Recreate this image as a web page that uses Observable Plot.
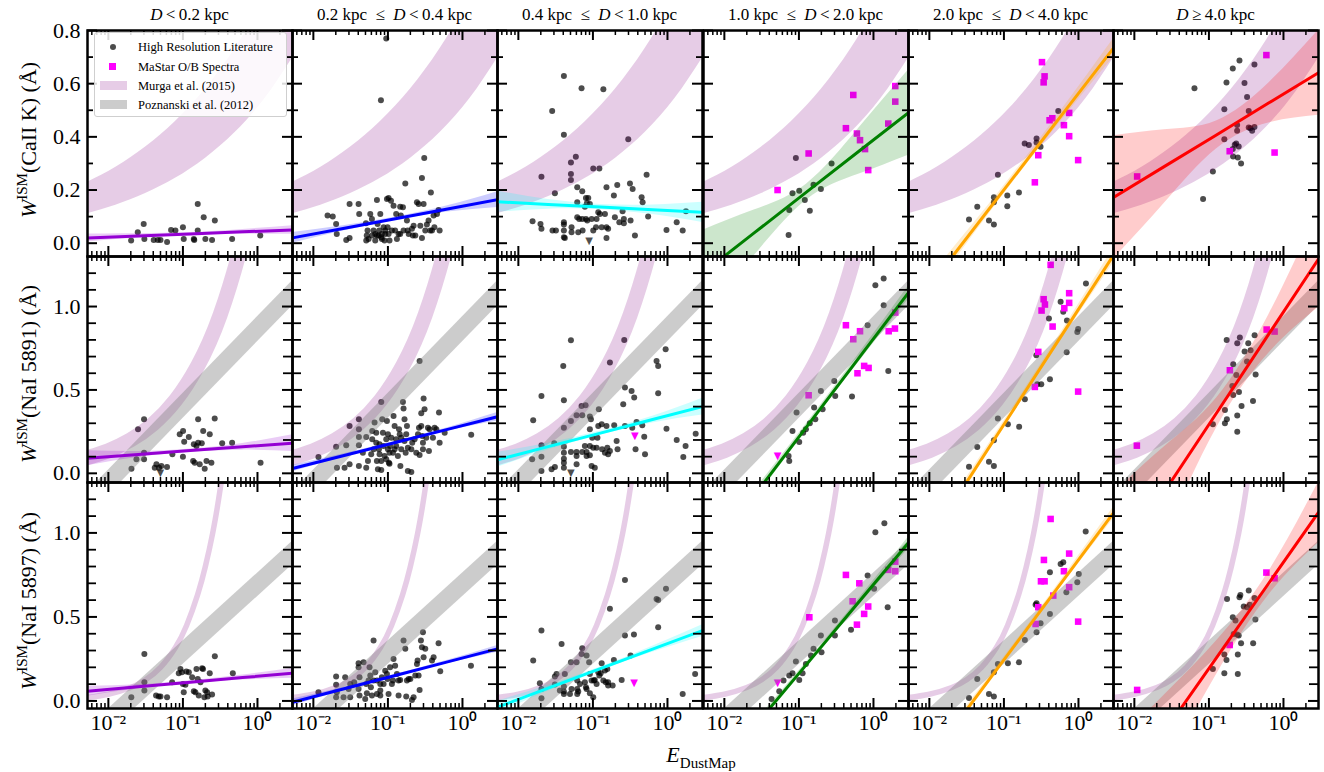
<!DOCTYPE html>
<html><head><meta charset="utf-8">
<script src="https://cdn.jsdelivr.net/npm/d3@7"></script>
<script src="https://cdn.jsdelivr.net/npm/@observablehq/plot@0.6"></script>
<style>
body{margin:0;background:#fff;font-family:"Liberation Serif",serif;}
#fig{position:relative;width:1324px;height:772px;overflow:hidden;background:#fff;}
.txt{position:absolute;white-space:nowrap;color:#000;font-family:"Liberation Serif",serif;}
.ttl{font-size:17px;transform:translate(-50%,-50%);}
.ylab{font-size:22px;transform:translate(-50%,-50%) rotate(-90deg);}
.ylab sup{font-size:15px;}
#legend{position:absolute;left:94px;top:32px;width:191px;height:83px;background:rgba(255,255,255,0.85);border:1px solid #cfcfcf;border-radius:3px;}
.lg{position:absolute;left:43px;font-size:12.5px;transform:translateY(-50%);white-space:nowrap;font-family:"Liberation Serif",serif;}
</style></head><body><div id="fig"></div>
<script>
// ---------------- data ----------------
const binTitles = ["<i>D</i>&thinsp;&lt;&thinsp;0.2 kpc","0.2 kpc &nbsp;≤ &nbsp;<i>D</i>&thinsp;&lt;&thinsp;0.4 kpc","0.4 kpc &nbsp;≤ &nbsp;<i>D</i>&thinsp;&lt;&thinsp;1.0 kpc","1.0 kpc &nbsp;≤ &nbsp;<i>D</i>&thinsp;&lt;&thinsp;2.0 kpc","2.0 kpc &nbsp;≤ &nbsp;<i>D</i>&thinsp;&lt;&thinsp;4.0 kpc","<i>D</i>&thinsp;≥&thinsp;4.0 kpc"];
const lineLabels = ["(CaII K) (Å)","(NaI 5891) (Å)","(NaI 5897) (Å)"];
const fitColors = ["darkviolet","blue","cyan","green","orange","red"];
const xMajor = [0.01,0.1,1];
const xMinor = [0.006,0.007,0.008,0.009,0.02,0.03,0.04,0.05,0.06,0.07,0.08,0.09,0.2,0.3,0.4,0.5,0.6,0.7,0.8,0.9,2];
const yMajor = [[0,0.2,0.4,0.6,0.8],[0,0.5,1.0],[0,0.5,1.0]];
const yMinor = [[0.1,0.3,0.5,0.7],[0.1,0.2,0.3,0.4,0.6,0.7,0.8,0.9,1.1,1.2],[0.1,0.2,0.3,0.4,0.6,0.7,0.8,0.9,1.1,1.2]];

// Murga et al. (2015) bands
const murgaE_CaK = [0.00525,0.0126,0.0316,0.0794,0.1995,0.501,1.259,2.95];
const murgaLo_CaK = [0.111,0.143,0.187,0.244,0.319,0.416,0.544,0.697];
const murgaHi_CaK = [0.229,0.286,0.362,0.458,0.579,0.732,0.926,1.15];
const murgaE_Na1 = [0.00525,0.01,0.02,0.0398,0.0794,0.158,0.316,0.631,1.0];
const murgaW_Na1 = [0.095,0.136,0.201,0.296,0.437,0.644,0.950,1.400,1.81];
const murgaE_Na2 = [0.00525,0.01,0.02,0.0316,0.0501,0.0794,0.112,0.158,0.2,0.251,0.316,0.398];
const murgaW_Na2 = [0.021,0.04,0.08,0.126,0.20,0.318,0.449,0.634,0.80,1.0,1.26,1.59];
// Poznanski et al. (2012) bands
const pozE = [0.00525,2.95];
const pozLo_Na1 = [-0.26,1.005], pozHi_Na1 = [-0.11,1.155];
const pozLo_Na2 = [-0.30,0.81], pozHi_Na2 = [-0.16,0.95];

// linear fits and confidence bands
const bandE = [0.00525,0.0251,0.126,0.631,2.95];
const fitC_CaK = [[0.020,0.0274,0.035,0.0427,0.050],[0.020,0.0556,0.0922,0.1289,0.164],[0.156,0.146,0.136,0.126,0.116],[-0.110,0.0387,0.192,0.345,0.491],[-0.264,-0.017,0.237,0.491,0.734],[0.172,0.288,0.407,0.527,0.641]];
const fitH_CaK = [[0.015,0.008,0.005,0.009,0.016],[0.02,0.01,0.006,0.012,0.03],[0.04,0.018,0.01,0.018,0.038],[0.16,0.086,0.03,0.086,0.16],[0.04,0.025,0.015,0.02,0.035],[0.232,0.139,0.053,0.075,0.16]];
const fitC_Na1 = [[0.091,0.1133,0.1362,0.1591,0.181],[0.029,0.1057,0.1846,0.2636,0.339],[0.081,0.1599,0.2411,0.3223,0.40],[-0.534,-0.134,0.277,0.689,1.083],[-0.592,-0.122,0.362,0.845,1.308],[-0.571,-0.112,0.360,0.833,1.285]];
const fitH_Na1 = [[0.045,0.018,0.01,0.02,0.05],[0.02,0.01,0.007,0.01,0.025],[0.045,0.02,0.012,0.02,0.05],[0.05,0.03,0.02,0.025,0.04],[0.05,0.03,0.02,0.025,0.045],[0.45,0.27,0.09,0.115,0.29]];
const fitC_Na2 = [[0.058,0.0845,0.1117,0.139,0.165],[-0.008,0.0706,0.1516,0.2326,0.31],[-0.037,0.0758,0.192,0.308,0.419],[-0.514,-0.154,0.216,0.587,0.941],[-0.517,-0.112,0.304,0.721,1.119],[-0.616,-0.186,0.256,0.699,1.122]];
const fitH_Na2 = [[0.03,0.012,0.008,0.015,0.03],[0.02,0.01,0.007,0.01,0.02],[0.035,0.018,0.01,0.018,0.035],[0.04,0.025,0.015,0.02,0.035],[0.045,0.025,0.015,0.02,0.035],[0.35,0.22,0.10,0.07,0.18]];

// High resolution literature points [E, W]
const hr_CaK_0 = [[0.0202,0.01],[0.0248,0.041],[0.0298,0.0725],[0.0304,0.016],[0.0406,0.0125],[0.046,0.0125],[0.05,0.0125],[0.0613,0.005],[0.0694,0.05],[0.0793,0.0475],[0.1,0.06],[0.1026,0.016],[0.14,0.016],[0.142,0.0125],[0.158,0.1475],[0.158,0.0475],[0.19,0.0975],[0.2,0.016],[0.246,0.0125],[0.268,0.085],[0.457,0.016],[1.09,0.029]];
const hr_CaK_1 = [[0.0155,0.104],[0.0182,0.10],[0.0202,0.0725],[0.0206,0.035],[0.0276,0.0125],[0.0306,0.02],[0.0306,0.1475],[0.0404,0.1475],[0.0412,0.11],[0.0507,0.075],[0.0512,0.01],[0.0533,0.0475],[0.058,0.11],[0.061,0.091],[0.0642,0.0475],[0.0676,0.035],[0.0676,0.01],[0.0712,0.1625],[0.0727,0.0725],[0.075,0.029],[0.0765,0.0475],[0.079,0.11],[0.0806,0.5375],[0.0814,0.0225],[0.083,0.016],[0.0875,0.06],[0.09,0.01],[0.092,0.035],[0.095,0.77],[0.097,0.166],[0.099,0.06],[0.102,0.17],[0.102,0.035],[0.105,0.01],[0.11,0.16],[0.113,0.0475],[0.119,0.141],[0.125,0.0475],[0.129,0.11],[0.132,0.016],[0.139,0.035],[0.146,0.1375],[0.149,0.104],[0.159,0.135],[0.162,0.0475],[0.171,0.225],[0.18,0.085],[0.184,0.0475],[0.19,0.035],[0.21,0.054],[0.216,0.029],[0.221,0.066],[0.245,0.154],[0.258,0.1475],[0.272,0.066],[0.286,0.245],[0.286,0.02],[0.301,0.1475],[0.307,0.32],[0.317,0.0475],[0.333,0.07],[0.351,0.085],[0.37,0.0475],[0.377,0.191],[0.39,0.0475],[0.41,0.104],[0.42,0.06],[0.455,0.11],[0.478,0.125],[0.494,0.0475],[0.083,0.035],[0.0712,0.029],[0.092,0.0475],[0.061,0.029],[0.052,0.029],[0.055,0.016],[0.146,0.035],[0.233,0.029]];
const hr_CaK_2 = [[0.0155,0.0825],[0.0198,0.0725],[0.0204,0.054],[0.0204,0.25],[0.0284,0.4975],[0.0287,0.0475],[0.0309,0.1875],[0.0319,0.0475],[0.0408,0.629],[0.0408,0.4075],[0.0408,0.079],[0.0408,0.07],[0.0408,0.0475],[0.0408,0.0225],[0.042,0.02],[0.0507,0.304],[0.0507,0.26],[0.0507,0.2375],[0.0517,0.06],[0.0517,0.041],[0.059,0.325],[0.0616,0.21],[0.0616,0.154],[0.0616,0.0975],[0.0636,0.041],[0.0655,0.091],[0.0704,0.5825],[0.0719,0.195],[0.0719,0.091],[0.0727,0.0475],[0.078,0.1375],[0.0806,0.091],[0.0806,0.17],[0.083,0.15],[0.0839,0.085],[0.0866,0.17],[0.091,0.1475],[0.096,0.091],[0.101,0.281],[0.101,0.0475],[0.11,0.06],[0.112,0.091],[0.118,0.116],[0.122,0.281],[0.124,0.11],[0.131,0.06],[0.138,0.579],[0.145,0.11],[0.152,0.21],[0.152,0.06],[0.152,0.02],[0.16,0.054],[0.191,0.179],[0.197,0.0975],[0.212,0.219],[0.226,0.079],[0.25,0.12],[0.26,0.091],[0.26,0.075],[0.298,0.391],[0.314,0.225],[0.32,0.085],[0.341,0.204],[0.366,0.029],[0.45,0.1725],[0.464,0.154],[0.525,0.2575],[0.55,0.10],[0.97,0.05],[1.33,0.079],[1.6,0.0475],[1.77,0.12]];
const hr_CaK_3 = [[0.0727,0.031],[0.0742,0.125],[0.082,0.1875],[0.091,0.32],[0.101,0.1975],[0.12,0.1625],[0.14,0.1225],[0.157,0.22],[0.197,0.204],[0.274,0.30]];
const hr_CaK_4 = [[0.034,0.089],[0.0439,0.1375],[0.063,0.085],[0.0734,0.07],[0.0734,0.1725],[0.0734,0.154],[0.083,0.2575],[0.111,0.179],[0.111,0.139],[0.159,0.191],[0.19,0.375],[0.216,0.369],[0.274,0.394],[0.274,0.379],[0.31,0.3625],[0.536,0.4975]];
const hr_CaK_5 = [[0.064,0.5825],[0.0835,0.166],[0.113,0.27],[0.161,0.504],[0.161,0.391],[0.172,0.604],[0.209,0.6575],[0.209,0.354],[0.211,0.326],[0.222,0.37],[0.232,0.375],[0.239,0.4225],[0.239,0.445],[0.244,0.3225],[0.251,0.364],[0.257,0.6875],[0.27,0.30],[0.30,0.6025],[0.325,0.55],[0.342,0.4975],[0.342,0.435],[0.36,0.4325],[0.38,0.4225],[0.408,0.4375],[0.408,0.6725]];

const hr_Na1_0 = [[0.0204,0.028],[0.0238,0.084],[0.025,0.264],[0.0301,0.324],[0.0301,0.124],[0.0301,0.084],[0.0419,0.034],[0.0441,0.054],[0.0479,0.034],[0.0514,0.044],[0.0612,0.038],[0.0722,0.114],[0.0906,0.234],[0.1005,0.254],[0.104,0.19],[0.1,0.10],[0.12,0.218],[0.14,0.174],[0.152,0.164],[0.16,0.324],[0.16,0.184],[0.137,0.074],[0.144,0.064],[0.168,0.054],[0.196,0.028],[0.207,0.074],[0.241,0.064],[0.179,0.18],[0.187,0.254],[0.229,0.234],[0.267,0.328],[0.336,0.18],[0.457,0.184],[1.10,0.064]];
const hr_Na1_1 = [[0.0117,0.098],[0.0202,0.16],[0.0207,0.034],[0.0262,0.034],[0.0276,0.168],[0.0306,0.284],[0.0306,0.054],[0.0408,0.324],[0.0408,0.264],[0.0408,0.218],[0.0408,0.168],[0.0408,0.044],[0.0461,0.124],[0.0512,0.218],[0.0512,0.034],[0.054,0.074],[0.0597,0.114],[0.0616,0.254],[0.0616,0.204],[0.0643,0.144],[0.0662,0.304],[0.0697,0.244],[0.0697,0.184],[0.0711,0.074],[0.0734,0.024],[0.0757,0.144],[0.0773,0.114],[0.0814,0.428],[0.0814,0.074],[0.0814,0.02],[0.0839,0.324],[0.0857,0.244],[0.0875,0.164],[0.0902,0.104],[0.095,0.204],[0.097,0.314],[0.1,0.234],[0.1,0.144],[0.103,0.064],[0.105,0.058],[0.107,0.164],[0.111,0.214],[0.117,0.124],[0.119,0.344],[0.123,0.284],[0.123,0.144],[0.129,0.204],[0.136,0.104],[0.141,0.264],[0.144,0.234],[0.147,0.044],[0.151,0.144],[0.159,0.428],[0.162,0.388],[0.167,0.324],[0.167,0.194],[0.173,0.124],[0.18,0.284],[0.185,0.154],[0.185,0.014],[0.206,0.008],[0.212,0.184],[0.228,0.204],[0.24,0.124],[0.253,0.234],[0.261,0.274],[0.266,0.674],[0.266,0.11],[0.28,0.36],[0.28,0.284],[0.289,0.224],[0.295,0.184],[0.295,0.144],[0.301,0.448],[0.31,0.384],[0.327,0.214],[0.344,0.274],[0.355,0.134],[0.362,0.264],[0.402,0.214],[0.423,0.274],[0.446,0.264],[0.484,0.364],[0.494,0.184],[0.577,0.244],[1.31,0.232],[0.0773,0.174],[0.095,0.084],[0.105,0.124],[0.129,0.164],[0.151,0.214],[0.176,0.234],[0.206,0.144]];
const hr_Na1_2 = [[0.0153,0.084],[0.0158,0.318],[0.0204,0.464],[0.0204,0.168],[0.0204,0.10],[0.0204,0.014],[0.0279,0.024],[0.0303,0.18],[0.0309,0.038],[0.04,0.644],[0.0408,0.438],[0.0408,0.274],[0.0408,0.16],[0.0408,0.124],[0.0408,0.088],[0.0408,0.064],[0.0408,0.034],[0.0507,0.798],[0.0507,0.314],[0.0507,0.128],[0.0604,0.348],[0.0604,0.128],[0.0604,0.104],[0.0604,0.054],[0.0704,0.404],[0.0719,0.348],[0.0719,0.128],[0.078,0.164],[0.0797,0.408],[0.0822,0.128],[0.0822,0.104],[0.091,0.34],[0.091,0.264],[0.091,0.164],[0.091,0.108],[0.094,0.324],[0.096,0.044],[0.098,0.214],[0.101,0.154],[0.106,0.034],[0.112,0.154],[0.115,0.214],[0.118,0.284],[0.12,0.384],[0.131,0.294],[0.133,0.144],[0.145,0.124],[0.152,0.284],[0.156,0.154],[0.16,0.114],[0.169,0.664],[0.169,0.134],[0.193,0.288],[0.208,0.194],[0.214,0.144],[0.255,0.414],[0.263,0.80],[0.269,0.514],[0.269,0.284],[0.33,0.494],[0.337,0.274],[0.358,0.454],[0.373,0.144],[0.385,0.308],[0.459,0.288],[0.488,0.22],[0.5,0.114],[0.714,0.674],[0.75,0.644],[0.75,0.48],[0.945,0.744],[0.97,0.268],[1.33,0.20],[1.63,0.098],[1.75,0.164],[2.39,0.238]];
const hr_Na1_3 = [[0.0727,0.104],[0.0742,0.074],[0.082,0.254],[0.093,0.364],[0.101,0.188],[0.114,0.244],[0.124,0.264],[0.14,0.30],[0.16,0.394],[0.166,0.324],[0.197,0.494],[0.208,0.384],[0.298,0.554],[0.307,0.464],[0.515,0.46],[0.835,0.888],[1.06,1.128],[1.37,1.168],[1.37,1.008],[1.58,0.614]];
const hr_Na1_4 = [[0.034,0.04],[0.0439,0.158],[0.063,0.07],[0.0734,0.044],[0.0734,0.198],[0.083,0.328],[0.113,0.294],[0.16,0.28],[0.191,0.444],[0.272,0.708],[0.28,0.534],[0.317,0.534],[0.414,0.564],[0.402,0.928],[0.576,1.028],[0.625,0.968],[0.70,0.916],[0.695,0.726],[0.964,0.848],[0.99,0.866],[1.26,1.138]];
const hr_Na1_5 = [[0.173,0.80],[0.212,0.654],[0.233,0.59],[0.24,0.78],[0.26,0.814],[0.301,0.73],[0.337,0.78],[0.362,0.738],[0.41,0.828],[0.324,0.67],[0.206,0.524],[0.212,0.47],[0.253,0.488],[0.274,0.404],[0.164,0.38],[0.174,0.324],[0.164,0.30],[0.113,0.294],[0.24,0.346],[0.24,0.25],[0.39,0.434],[0.423,0.592]];

const hr_Na2_0 = [[0.0203,0.022],[0.0304,0.28],[0.0304,0.111],[0.0304,0.0615],[0.0436,0.032],[0.0474,0.026],[0.05,0.026],[0.0613,0.022],[0.0716,0.111],[0.088,0.165],[0.0926,0.19],[0.097,0.17],[0.1,0.101],[0.1026,0.052],[0.108,0.097],[0.111,0.175],[0.12,0.171],[0.133,0.141],[0.14,0.0575],[0.147,0.052],[0.152,0.19],[0.158,0.131],[0.163,0.032],[0.172,0.111],[0.181,0.194],[0.186,0.19],[0.194,0.022],[0.2,0.0615],[0.211,0.052],[0.215,0.026],[0.229,0.165],[0.246,0.038],[0.268,0.266],[0.467,0.165]];
const hr_Na2_1 = [[0.0117,0.0516],[0.0202,0.145],[0.0202,0.097],[0.0206,0.0516],[0.0254,0.0218],[0.0267,0.141],[0.0312,0.0218],[0.0312,0.101],[0.0404,0.224],[0.0404,0.20],[0.0416,0.141],[0.0416,0.032],[0.0496,0.012],[0.0512,0.101],[0.055,0.121],[0.0567,0.20],[0.058,0.151],[0.0591,0.0813],[0.061,0.032],[0.0642,0.359],[0.0676,0.171],[0.0712,0.121],[0.079,0.032],[0.079,0.101],[0.083,0.141],[0.0875,0.101],[0.092,0.18],[0.097,0.161],[0.099,0.131],[0.107,0.20],[0.113,0.101],[0.117,0.121],[0.119,0.25],[0.125,0.21],[0.132,0.161],[0.139,0.121],[0.139,0.032],[0.146,0.125],[0.162,0.359],[0.171,0.31],[0.176,0.026],[0.18,0.121],[0.19,0.131],[0.2,0.131],[0.21,0.006],[0.221,0.0218],[0.233,0.151],[0.245,0.22],[0.25,0.24],[0.258,0.151],[0.266,0.0655],[0.277,0.359],[0.286,0.319],[0.295,0.409],[0.301,0.26],[0.317,0.31],[0.39,0.24],[0.41,0.26],[0.478,0.343],[0.503,0.177],[1.30,0.21],[0.0202,0.0218],[0.0297,0.0714],[0.0404,0.0714],[0.079,0.0615],[0.102,0.0417],[0.0522,0.0456],[0.0712,0.0417],[0.0353,0.111],[0.0471,0.23],[0.0642,0.121]];
const hr_Na2_2 = [[0.0158,0.24],[0.0194,0.105],[0.0204,0.419],[0.0204,0.0714],[0.0204,0.0159],[0.0309,0.145],[0.0309,0.0972],[0.038,0.339],[0.0408,0.0853],[0.0408,0.0556],[0.0408,0.0417],[0.042,0.161],[0.0507,0.23],[0.0517,0.0714],[0.0604,0.23],[0.0616,0.121],[0.0616,0.0714],[0.0616,0.0417],[0.0636,0.0556],[0.0704,0.28],[0.0719,0.313],[0.078,0.111],[0.0806,0.0813],[0.0822,0.27],[0.0822,0.0714],[0.089,0.23],[0.091,0.0456],[0.096,0.121],[0.101,0.0218],[0.103,0.121],[0.106,0.125],[0.118,0.171],[0.122,0.151],[0.127,0.165],[0.131,0.224],[0.138,0.121],[0.145,0.181],[0.149,0.111],[0.156,0.19],[0.16,0.111],[0.16,0.0913],[0.169,0.548],[0.184,0.0913],[0.191,0.244],[0.243,0.125],[0.269,0.72],[0.269,0.389],[0.355,0.395],[0.32,0.27],[0.714,0.607],[0.75,0.438],[0.75,0.601],[0.955,0.667],[1.6,0.0417],[2.35,0.161],[0.0325,0.161],[0.036,0.0615],[0.0492,0.0417],[0.067,0.101],[0.091,0.161],[0.112,0.101]];
const hr_Na2_3 = [[0.043,0.012],[0.0545,0.0575],[0.0622,0.121],[0.0742,0.151],[0.082,0.165],[0.091,0.234],[0.101,0.125],[0.112,0.165],[0.124,0.22],[0.145,0.27],[0.157,0.31],[0.197,0.389],[0.201,0.29],[0.304,0.478],[0.304,0.389],[0.5,0.423],[0.835,0.746],[1.02,0.667],[1.06,1.004],[1.40,1.058],[1.55,0.558]];
const hr_Na2_4 = [[0.034,0.018],[0.0439,0.131],[0.063,0.042],[0.0734,0.026],[0.0734,0.171],[0.083,0.22],[0.113,0.224],[0.159,0.23],[0.191,0.363],[0.274,0.409],[0.274,0.581],[0.266,0.573],[0.31,0.462],[0.414,0.518],[0.414,0.766],[0.576,0.815],[0.625,0.825],[0.688,0.647],[0.964,0.706],[1.01,0.756],[1.25,1.008]];
const hr_Na2_5 = [[0.113,0.19],[0.161,0.165],[0.161,0.276],[0.172,0.244],[0.175,0.607],[0.209,0.498],[0.227,0.478],[0.239,0.395],[0.244,0.161],[0.244,0.276],[0.251,0.389],[0.257,0.617],[0.264,0.631],[0.27,0.343],[0.293,0.562],[0.325,0.558],[0.342,0.657],[0.353,0.573],[0.392,0.343],[0.408,0.613],[0.42,0.484],[0.215,0.399]];

// MaStar O/B spectra points [E, W]
const ms_CaK_3 = [[0.0517,0.20],[0.135,0.3375],[0.427,0.4325],[0.536,0.5575],[0.60,0.4125],[0.66,0.3875],[0.77,0.354],[0.85,0.275],[1.58,0.45],[1.96,0.5325],[1.96,0.591]];
const ms_CaK_4 = [[0.324,0.681],[0.351,0.6275],[0.341,0.605],[0.41,0.4625],[0.446,0.47],[0.638,0.444],[0.75,0.49],[0.75,0.4025],[0.289,0.331],[0.26,0.229],[0.99,0.3125]];
const ms_CaK_5 = [[0.0109,0.251],[0.19,0.346],[0.59,0.7075],[0.76,0.341]];
const ms_Na1_3 = [[0.135,0.468],[0.427,0.888],[0.536,0.804],[0.66,0.852],[0.61,0.60],[0.75,0.644],[0.86,0.632],[1.6,0.852],[1.94,0.868],[1.96,0.964]];
const ms_Na1_4 = [[0.423,1.25],[0.341,1.044],[0.355,1.012],[0.32,0.976],[0.45,0.88],[0.289,0.728],[0.26,0.518],[0.646,0.99],[0.75,1.08],[0.75,1.022],[0.99,0.49]];
const ms_Na1_5 = [[0.0108,0.166],[0.191,0.618],[0.595,0.862],[0.76,0.85]];
const ms_Na2_3 = [[0.138,0.498],[0.427,0.75],[0.646,0.70],[0.525,0.593],[0.75,0.518],[0.85,0.562],[0.60,0.454],[1.58,0.78],[1.96,0.829],[1.96,0.772]];
const ms_Na2_4 = [[0.423,1.083],[0.344,0.839],[0.314,0.712],[0.351,0.712],[0.459,0.627],[0.638,0.772],[0.75,0.877],[0.75,0.677],[0.289,0.558],[0.266,0.458],[0.99,0.472]];
const ms_Na2_5 = [[0.0109,0.0655],[0.19,0.333],[0.59,0.764],[0.76,0.73]];

// upper limits [row, column, E, W]
const ul_hr = [[0,2,0.089,0.01],[1,0,0.0499,0.004],[1,2,0.0507,0.004]];
const ul_ms = [[1,2,0.366,0.224],[1,3,0.0517,0.108],[2,2,0.358,0.105],[2,3,0.0517,0.105]];

// ---------------- layout ----------------
const FW = 205, FH = 226;
const colLeft = [87,292,497,703,908,1113];
const rowTop = [30,256,482];
const xDomain = [0.00525,2.95];
const yDomains = [[-0.05,0.8],[-0.055,1.3],[-0.045,1.3]];

const hrRows = [[hr_CaK_0,hr_CaK_1,hr_CaK_2,hr_CaK_3,hr_CaK_4,hr_CaK_5],[hr_Na1_0,hr_Na1_1,hr_Na1_2,hr_Na1_3,hr_Na1_4,hr_Na1_5],[hr_Na2_0,hr_Na2_1,hr_Na2_2,hr_Na2_3,hr_Na2_4,hr_Na2_5]];
const msRows = [[null,null,null,ms_CaK_3,ms_CaK_4,ms_CaK_5],[null,null,null,ms_Na1_3,ms_Na1_4,ms_Na1_5],[null,null,null,ms_Na2_3,ms_Na2_4,ms_Na2_5]];
const fitCRows = [fitC_CaK,fitC_Na1,fitC_Na2];
const fitHRows = [fitH_CaK,fitH_Na1,fitH_Na2];

const fig = document.getElementById("fig");
const supMap = {"-2":"⁻²","-1":"⁻¹","0":"⁰"};
const X = d => d[0], Y = d => d[1];

function panel(r, c) {
  const ml = c === 0 ? 80 : 3, mr = 3, mt = 3, mb = r === 2 ? 50 : 3;
  const marks = [];
  marks.push(Plot.dot(hrRows[r][c], {x: X, y: Y, r: 3, fill: "black", fillOpacity: 0.7, clip: true}));
  if (msRows[r][c]) marks.push(Plot.dot(msRows[r][c], {x: X, y: Y, r: 3.7, symbol: "square", fill: "magenta", clip: true}));
  const uh = ul_hr.filter(d => d[0] === r && d[1] === c);
  const um = ul_ms.filter(d => d[0] === r && d[1] === c);
  if (uh.length) marks.push(Plot.text(uh, {x: d => d[2], y: d => d[3], text: () => "▼", fontSize: 10, fill: "black", fillOpacity: 0.7, fontFamily: "DejaVu Sans", clip: true}));
  if (um.length) marks.push(Plot.text(um, {x: d => d[2], y: d => d[3], text: () => "▼", fontSize: 10, fill: "magenta", fontFamily: "DejaVu Sans", clip: true}));
  // Murga band
  if (r === 0) {
    const m = murgaE_CaK.map((e, i) => ({e, lo: murgaLo_CaK[i], hi: murgaHi_CaK[i]}));
    marks.push(Plot.areaY(m, {x: "e", y1: "lo", y2: "hi", fill: "purple", fillOpacity: 0.2, curve: "natural", clip: true}));
  } else {
    const E = r === 1 ? murgaE_Na1 : murgaE_Na2, Wm = r === 1 ? murgaW_Na1 : murgaW_Na2;
    const m = E.map((e, i) => ({e, w: Wm[i]}));
    marks.push(Plot.line(m, {x: "e", y: "w", stroke: "purple", strokeOpacity: 0.2, strokeWidth: r === 1 ? 15 : 5.5, curve: "natural", clip: true}));
    const lo = r === 1 ? pozLo_Na1 : pozLo_Na2, hi = r === 1 ? pozHi_Na1 : pozHi_Na2;
    const p = pozE.map((e, i) => ({e, lo: lo[i], hi: hi[i]}));
    marks.push(Plot.areaY(p, {x: "e", y1: "lo", y2: "hi", fill: "gray", fillOpacity: 0.4, clip: true}));
  }
  // fit band and line
  const fc = fitCRows[r][c], fh = fitHRows[r][c];
  const f = bandE.map((e, i) => ({e, c: fc[i], lo: fc[i] - fh[i], hi: fc[i] + fh[i]}));
  marks.push(Plot.areaY(f, {x: "e", y1: "lo", y2: "hi", fill: fitColors[c], fillOpacity: 0.2, curve: "natural", clip: true}));
  marks.push(Plot.line(f, {x: "e", y: "c", stroke: fitColors[c], strokeWidth: 3, clip: true}));
  // inward ticks
  const tk = {stroke: "black", strokeWidth: 2};
  const yMinLen = r === 0 ? 6 : 9;
  marks.push(Plot.tickX(xMajor, {x: d => d, insetTop: FH - 10, ...tk}));
  marks.push(Plot.tickX(xMajor, {x: d => d, insetBottom: FH - 10, ...tk}));
  marks.push(Plot.tickX(xMinor, {x: d => d, insetTop: FH - 5, ...tk, strokeWidth: 1.5}));
  marks.push(Plot.tickX(xMinor, {x: d => d, insetBottom: FH - 5, ...tk, strokeWidth: 1.5}));
  marks.push(Plot.tickY(yMajor[r], {y: d => d, insetRight: FW - 10, ...tk}));
  marks.push(Plot.tickY(yMajor[r], {y: d => d, insetLeft: FW - 10, ...tk}));
  marks.push(Plot.tickY(yMinor[r], {y: d => d, insetRight: FW - yMinLen, ...tk, strokeWidth: 1.8}));
  marks.push(Plot.tickY(yMinor[r], {y: d => d, insetLeft: FW - yMinLen, ...tk, strokeWidth: 1.8}));
  marks.push(Plot.frame({stroke: "black", strokeWidth: 2.5}));

  const xOpt = {type: "log", domain: xDomain, label: null};
  if (r === 2) Object.assign(xOpt, {ticks: xMajor, tickSize: 0, tickPadding: 6, tickFormat: d => "10" + supMap[String(Math.round(Math.log10(d)))]});
  else xOpt.axis = null;
  const yOpt = {domain: yDomains[r], label: null};
  if (c === 0) Object.assign(yOpt, {ticks: yMajor[r], tickSize: 0, tickPadding: 7, tickFormat: d3.format(".1f")});
  else yOpt.axis = null;

  const svg = Plot.plot({
    width: FW + ml + mr, height: FH + mt + mb,
    marginLeft: ml, marginRight: mr, marginTop: mt, marginBottom: mb,
    x: xOpt, y: yOpt,
    style: {fontFamily: "Liberation Serif", fontSize: "22px", background: "transparent", overflow: "visible", color: "black"},
    marks
  });
  svg.style.position = "absolute";
  svg.style.left = (colLeft[c] - ml) + "px";
  svg.style.top = (rowTop[r] - mt) + "px";
  svg.style.maxWidth = "none";
  fig.appendChild(svg);
}

for (let r = 0; r < 3; r++) for (let c = 0; c < 6; c++) panel(r, c);

function addText(cls, html, x, y) {
  const d = document.createElement("div");
  d.className = "txt " + cls;
  d.innerHTML = html;
  d.style.left = x + "px"; d.style.top = y + "px";
  fig.appendChild(d);
  return d;
}
binTitles.forEach((t, i) => addText("ttl", t, colLeft[i] + FW / 2, 15));
const yCenters = [140, 374, 601];
lineLabels.forEach((t, i) => addText("ylab", "<i>W</i><sup>ISM</sup>" + t, 28, yCenters[i]));
const xl = addText("", "<i>E</i><sub style='font-size:15px'>DustMap</sub>", 701, 757);
xl.style.fontSize = "22px"; xl.style.transform = "translate(-50%,-50%)";

// legend
const lg = document.createElement("div");
lg.id = "legend";
lg.innerHTML = `
<div style="position:absolute;left:15px;top:11px;width:6px;height:6px;border-radius:50%;background:rgba(0,0,0,0.7)"></div>
<div class="lg" style="top:14px">High Resolution Literature</div>
<div style="position:absolute;left:14px;top:30px;width:7px;height:7px;background:magenta"></div>
<div class="lg" style="top:33.5px">MaStar O/B Spectra</div>
<div style="position:absolute;left:5px;top:48px;width:27px;height:9px;background:rgba(128,0,128,0.2)"></div>
<div class="lg" style="top:53px">Murga et al. (2015)</div>
<div style="position:absolute;left:5px;top:67px;width:27px;height:9px;background:rgba(128,128,128,0.4)"></div>
<div class="lg" style="top:72px">Poznanski et al. (2012)</div>`;
fig.appendChild(lg);
</script></body></html>
